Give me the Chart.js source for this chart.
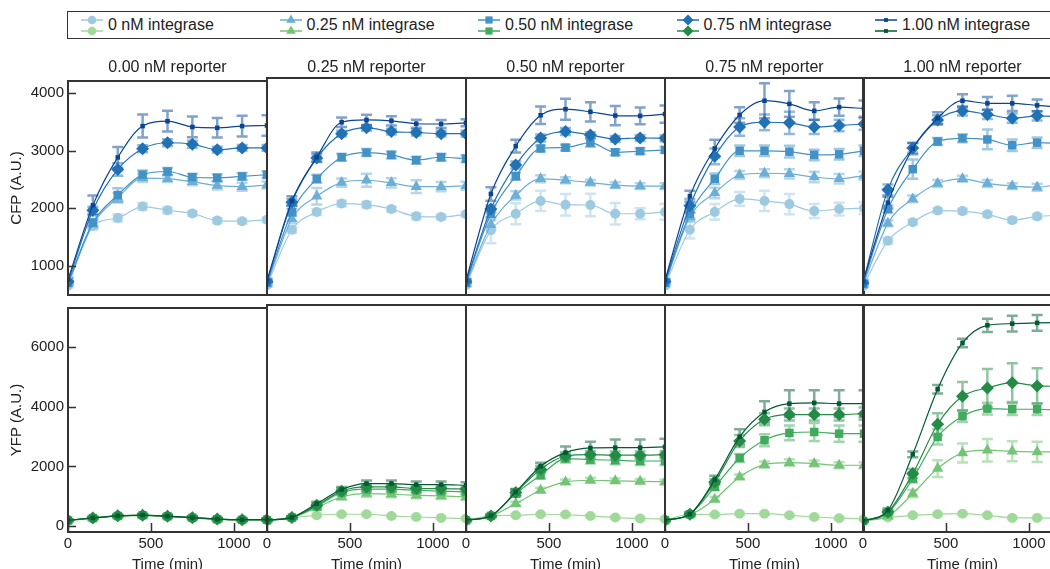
<!DOCTYPE html>
<html>
<head>
<meta charset="utf-8">
<script src="https://cdn.jsdelivr.net/npm/chart.js@4.4.0/dist/chart.umd.min.js"></script>
<style>
  body { margin: 0; background: #fff; width: 1050px; height: 569px; overflow: hidden; position: relative;
         font-family: "Liberation Sans", Arial, sans-serif; color: #222; }
  canvas.panel { position: absolute; }
  #legend { position: absolute; left: 67px; top: 11px; width: 1000px; height: 26px;
            border: 1.5px solid #333; display: flex; }
  .item { width: 198.5px; flex: none; display: flex; align-items: flex-start; }
  .item canvas { margin-left: 10px; }
  .item span { font-size: 16px; line-height: 26px; margin-left: 2px; white-space: nowrap; }
  .coltitle { position: absolute; top: 57px; width: 199px; text-align: center; font-size: 16px; line-height: 20px; }
</style>
</head>
<body>
<div id="legend"></div>
<script>
// time points (min) where the markers / error bars sit
const time = [0, 150, 300, 450, 600, 750, 900, 1050, 1200];
const integrase = ['0 nM integrase', '0.25 nM integrase', '0.50 nM integrase', '0.75 nM integrase', '1.00 nM integrase'];
const reporters = ['0.00 nM reporter', '0.25 nM reporter', '0.50 nM reporter', '0.75 nM reporter', '1.00 nM reporter'];

// tick labels
const timeTicks = [0, 500, 1000];
const cfpTicks = [1000, 2000, 3000, 4000];
const yfpTicks = [0, 2000, 4000, 6000];

// CFP, one array per reporter column, rows = 0, 0.25, 0.50, 0.75, 1.00 nM integrase
const cfpR000 = [
  [650, 1690, 1830, 2030, 1965, 1910, 1785, 1775, 1800],
  [690, 1720, 2185, 2525, 2515, 2460, 2395, 2375, 2405],
  [700, 1750, 2230, 2585, 2640, 2540, 2530, 2555, 2585],
  [720, 1965, 2675, 3035, 3140, 3115, 3020, 3050, 3050],
  [760, 2050, 2885, 3430, 3515, 3415, 3400, 3430, 3440]
];
const cfpR025 = [
  [660, 1610, 1915, 2060, 2040, 1965, 1840, 1830, 1875],
  [680, 1800, 2185, 2420, 2460, 2415, 2350, 2350, 2365],
  [700, 1910, 2485, 2855, 2935, 2895, 2805, 2855, 2830],
  [720, 2080, 2840, 3260, 3360, 3295, 3280, 3260, 3260],
  [740, 2105, 2855, 3455, 3495, 3480, 3430, 3425, 3445]
];
const cfpR050 = [
  [660, 1600, 1885, 2105, 2040, 2035, 1885, 1885, 1915],
  [680, 1695, 2200, 2485, 2460, 2420, 2375, 2360, 2360],
  [700, 1885, 2530, 3005, 3020, 3105, 2940, 2960, 2980],
  [720, 1965, 2720, 3185, 3295, 3235, 3170, 3185, 3180],
  [740, 2225, 3045, 3575, 3680, 3635, 3570, 3565, 3595]
];
const cfpR075 = [
  [650, 1610, 1915, 2140, 2105, 2050, 1930, 1965, 1980],
  [680, 1830, 2240, 2550, 2580, 2570, 2515, 2485, 2540],
  [700, 1885, 2485, 2965, 2965, 2950, 2895, 2905, 2965],
  [720, 2020, 2870, 3375, 3455, 3445, 3375, 3400, 3425],
  [740, 2185, 3005, 3580, 3825, 3770, 3650, 3715, 3690]
];
const cfpR100 = [
  [640, 1420, 1740, 1940, 1930, 1875, 1775, 1840, 1860],
  [660, 1720, 2140, 2405, 2485, 2405, 2360, 2340, 2405],
  [680, 1965, 2650, 3125, 3180, 3160, 3060, 3105, 3090],
  [700, 2295, 3015, 3495, 3650, 3590, 3525, 3565, 3550],
  [720, 2075, 3005, 3525, 3825, 3780, 3780, 3745, 3715]
];

// CFP error bar half-widths
const cfpErrR000 = [
  [30, 60, 60, 60, 50, 40, 40, 40, 40],
  [30, 70, 80, 70, 60, 60, 70, 70, 60],
  [30, 60, 120, 70, 60, 60, 60, 60, 60],
  [30, 60, 110, 60, 60, 60, 50, 50, 50],
  [30, 170, 180, 200, 180, 180, 170, 180, 180]
];
const cfpErrR025 = [
  [30, 50, 50, 50, 50, 40, 50, 40, 40],
  [30, 80, 140, 70, 110, 80, 110, 80, 70],
  [30, 60, 70, 60, 60, 60, 60, 60, 60],
  [30, 60, 60, 50, 50, 50, 50, 50, 50],
  [30, 80, 80, 80, 90, 80, 70, 70, 60]
];
const cfpErrR050 = [
  [30, 220, 180, 175, 185, 195, 185, 95, 135],
  [30, 80, 70, 60, 50, 50, 50, 50, 50],
  [30, 60, 60, 50, 50, 70, 50, 50, 50],
  [30, 60, 60, 60, 60, 50, 50, 50, 50],
  [30, 115, 110, 150, 180, 165, 165, 145, 150]
];
const cfpErrR075 = [
  [30, 150, 135, 120, 175, 175, 120, 110, 100],
  [30, 80, 90, 70, 70, 80, 90, 80, 70],
  [30, 80, 90, 90, 90, 100, 90, 90, 90],
  [30, 120, 135, 150, 135, 190, 120, 100, 100],
  [30, 95, 150, 135, 300, 220, 150, 150, 140]
];
const cfpErrR100 = [
  [30, 50, 40, 40, 40, 40, 40, 40, 40],
  [30, 50, 60, 60, 50, 60, 50, 60, 50],
  [30, 60, 165, 60, 70, 170, 100, 90, 80],
  [30, 90, 80, 80, 80, 80, 80, 80, 80],
  [30, 100, 100, 100, 110, 110, 130, 100, 100]
];

// YFP
const yfpR000 = [
  [190, 270, 340, 360, 330, 280, 230, 210, 220],
  [195, 275, 345, 365, 335, 285, 235, 215, 225],
  [195, 275, 345, 370, 335, 285, 235, 215, 220],
  [200, 280, 350, 370, 340, 290, 240, 220, 225],
  [200, 280, 350, 375, 340, 290, 240, 220, 225]
];
const yfpR025 = [
  [195, 285, 360, 395, 395, 340, 305, 275, 255],
  [195, 285, 615, 965, 1075, 1055, 1020, 1000, 965],
  [195, 285, 660, 1110, 1220, 1220, 1185, 1155, 1130],
  [200, 290, 690, 1155, 1295, 1295, 1240, 1240, 1220],
  [200, 290, 745, 1210, 1405, 1405, 1370, 1370, 1350]
];
const yfpR050 = [
  [195, 340, 360, 395, 385, 340, 285, 255, 240],
  [195, 340, 745, 1185, 1460, 1515, 1495, 1480, 1460],
  [195, 340, 1075, 1680, 2230, 2195, 2175, 2150, 2150],
  [200, 340, 1110, 1880, 2315, 2360, 2340, 2340, 2360],
  [200, 345, 1130, 1975, 2425, 2580, 2590, 2590, 2615]
];
const yfpR075 = [
  [195, 395, 385, 415, 415, 360, 305, 265, 240],
  [195, 370, 890, 1625, 2030, 2095, 2065, 2010, 2010],
  [195, 395, 1295, 2250, 2835, 3075, 3105, 3050, 3050],
  [200, 395, 1460, 2810, 3525, 3680, 3680, 3680, 3710],
  [200, 400, 1535, 2945, 3765, 4040, 4065, 4040, 4040]
];
const yfpR100 = [
  [175, 285, 360, 395, 415, 360, 275, 275, 265],
  [175, 330, 1075, 1900, 2415, 2505, 2470, 2450, 2450],
  [175, 440, 1570, 2945, 3625, 3875, 3855, 3855, 3820],
  [175, 470, 1735, 3360, 4280, 4555, 4730, 4625, 4610],
  [175, 525, 2370, 4515, 6040, 6620, 6675, 6700, 6710]
];

const yfpErrR000 = [
  [30, 40, 40, 40, 40, 40, 40, 40, 40],
  [30, 40, 40, 40, 40, 40, 40, 40, 40],
  [30, 40, 40, 40, 40, 40, 40, 40, 40],
  [30, 40, 40, 40, 40, 40, 40, 40, 40],
  [30, 40, 40, 40, 40, 40, 40, 40, 40]
];
const yfpErrR025 = [
  [30, 40, 40, 40, 40, 40, 40, 40, 40],
  [30, 40, 60, 80, 100, 100, 100, 100, 100],
  [30, 40, 60, 80, 100, 100, 100, 100, 100],
  [30, 40, 60, 80, 100, 100, 100, 100, 100],
  [30, 40, 60, 80, 100, 100, 100, 100, 100]
];
const yfpErrR050 = [
  [30, 40, 40, 40, 40, 40, 40, 40, 40],
  [30, 40, 60, 80, 80, 80, 80, 80, 80],
  [30, 40, 100, 110, 130, 130, 130, 130, 130],
  [30, 40, 100, 110, 120, 120, 120, 120, 120],
  [30, 40, 100, 120, 200, 200, 270, 270, 270]
];
const yfpErrR075 = [
  [30, 40, 40, 40, 40, 40, 40, 40, 40],
  [30, 50, 80, 80, 100, 110, 100, 100, 100],
  [30, 50, 100, 130, 200, 245, 300, 270, 270],
  [30, 50, 100, 200, 200, 200, 200, 200, 200],
  [30, 60, 130, 250, 350, 440, 420, 440, 440]
];
const yfpErrR100 = [
  [30, 40, 40, 40, 40, 40, 40, 40, 40],
  [30, 60, 120, 275, 315, 370, 330, 330, 330],
  [30, 60, 130, 250, 190, 190, 190, 190, 190],
  [30, 60, 150, 360, 470, 630, 640, 580, 580],
  [30, 60, 95, 140, 140, 220, 260, 260, 260]
];

const cfpValues = [cfpR000, cfpR025, cfpR050, cfpR075, cfpR100];
const cfpErrors = [cfpErrR000, cfpErrR025, cfpErrR050, cfpErrR075, cfpErrR100];
const yfpValues = [yfpR000, yfpR025, yfpR050, yfpR075, yfpR100];
const yfpErrors = [yfpErrR000, yfpErrR025, yfpErrR050, yfpErrR075, yfpErrR100];

// styles
const blues = ['#9ecae1', '#6baed6', '#4292c6', '#2171b5', '#084594'];
const greens = ['#a1d99b', '#74c476', '#41ab5d', '#238b45', '#005a32'];
const markers = ['circle', 'triangle', 'rect', 'rectRot', 'rect'];
const markerSize = [5, 6.5, 6, 6.5, 3.2];

const family = '"Liberation Sans", Arial, sans-serif';
Chart.defaults.font.family = family;
Chart.defaults.color = '#222';

// layout of the panel grid
const panelLeft = [68, 267, 466, 665, 863];
const panelWidth = 199;
const rowTop = [78, 305];
const panelHeight = 227;

// error bars behind the lines
const errorBars = {
  id: 'errorBars',
  beforeDatasetsDraw(chart) {
    const { ctx, chartArea: a, scales: { x, y } } = chart;
    ctx.save();
    ctx.beginPath();
    ctx.rect(a.left, a.top, a.right - a.left, a.bottom - a.top);
    ctx.clip();
    ctx.globalAlpha = 0.5;
    ctx.lineWidth = 2.5;
    chart.data.datasets.forEach(ds => {
      ctx.strokeStyle = ds.borderColor;
      ds.data.forEach((p, j) => {
        const e = ds.errorBars[j];
        const px = x.getPixelForValue(p.x);
        const lo = y.getPixelForValue(p.y - e);
        const hi = y.getPixelForValue(p.y + e);
        ctx.beginPath();
        ctx.moveTo(px, lo); ctx.lineTo(px, hi);
        ctx.moveTo(px - 5.5, lo); ctx.lineTo(px + 5.5, lo);
        ctx.moveTo(px - 5.5, hi); ctx.lineTo(px + 5.5, hi);
        ctx.stroke();
      });
    });
    ctx.restore();
  }
};

// box around each panel plus inward tick marks
const panelFrame = {
  id: 'panelFrame',
  afterDraw(chart, args, opts) {
    const { ctx, chartArea: a, scales: { x, y } } = chart;
    ctx.save();
    ctx.strokeStyle = '#333';
    ctx.lineWidth = 1.5;
    ctx.beginPath();
    if (opts.yTicks) {
      y.ticks.forEach(t => {
        const py = Math.round(y.getPixelForValue(t.value)) + 0.5;
        ctx.moveTo(a.left, py); ctx.lineTo(a.left + 8, py);
      });
    }
    if (opts.xTicks) {
      x.ticks.forEach(t => {
        const px = Math.round(x.getPixelForValue(t.value)) + 0.5;
        ctx.moveTo(px, a.bottom); ctx.lineTo(px, a.bottom - 9);
      });
    }
    ctx.stroke();
    ctx.lineWidth = 2;
    ctx.strokeRect(a.left, a.top, a.right - a.left, a.bottom - a.top);
    ctx.restore();
  }
};

function makePanel(row, col, values, errors, palette) {
  const padL = col === 0 ? 68 : 20;
  const padR = 20, padT = 10;
  const padB = row === 1 ? 42 : 10;
  const canvas = document.createElement('canvas');
  canvas.className = 'panel';
  canvas.width = padL + panelWidth + padR;
  canvas.height = padT + panelHeight + padB;
  canvas.style.left = (panelLeft[col] - padL) + 'px';
  canvas.style.top = (rowTop[row] - padT) + 'px';
  document.body.appendChild(canvas);

  const datasets = values.map((v, i) => ({
    label: integrase[i],
    data: time.map((t, j) => ({ x: t, y: v[j] })),
    errorBars: errors[i],
    borderColor: palette[i],
    backgroundColor: palette[i],
    pointBackgroundColor: palette[i],
    borderWidth: 1.2,
    pointStyle: markers[i],
    pointRadius: markerSize[i],
    pointBorderWidth: 0,
    cubicInterpolationMode: 'monotone',
    clip: 0,
    order: 4 - i
  }));

  const yTicks = row === 1 ? yfpTicks : cfpTicks;

  new Chart(canvas, {
    type: 'line',
    data: { datasets },
    options: {
      responsive: false,
      animation: false,
      events: [],
      layout: {
        autoPadding: false,
        padding: { left: 0, right: padR, top: padT, bottom: row === 1 ? 0 : padB }
      },
      plugins: {
        legend: { display: false },
        tooltip: { enabled: false },
        panelFrame: { yTicks: col === 0, xTicks: row === 1 }
      },
      scales: {
        x: {
          type: 'linear', min: 0, max: 1200,
          display: row === 1,
          grid: { display: false, drawTicks: false },
          border: { display: false },
          ticks: { padding: 3, maxRotation: 0, font: { size: 15 }, callback: v => String(v) },
          afterBuildTicks: s => { s.ticks = timeTicks.map(v => ({ value: v })); },
          title: { display: true, text: 'Time (min)', font: { size: 15 }, padding: { top: 0, bottom: 0 } },
          afterFit: s => { s.height = padB; }
        },
        y: {
          type: 'linear',
          min: row === 1 ? -190 : 490,
          max: row === 1 ? 7290 : 4215,
          display: true,
          grid: { display: false, drawTicks: false },
          border: { display: false },
          ticks: { display: col === 0, padding: 4, font: { size: 15 }, callback: v => String(v) },
          afterBuildTicks: s => { s.ticks = yTicks.map(v => ({ value: v })); },
          title: { display: col === 0, text: row === 1 ? 'YFP (A.U.)' : 'CFP (A.U.)', font: { size: 15 }, padding: { top: 8, bottom: 0 } },
          afterFit: s => { s.width = padL; }
        }
      }
    },
    plugins: [errorBars, panelFrame]
  });
}

for (let c = 0; c < 5; c++) {
  makePanel(0, c, cfpValues[c], cfpErrors[c], blues);
  makePanel(1, c, yfpValues[c], yfpErrors[c], greens);
  const t = document.createElement('div');
  t.className = 'coltitle';
  t.style.left = panelLeft[c] + 'px';
  t.textContent = reporters[c];
  document.body.appendChild(t);
}

// legend: blue (CFP) and green (YFP) symbol for each integrase level
const legend = document.getElementById('legend');
integrase.forEach((label, i) => {
  const item = document.createElement('div');
  item.className = 'item';
  const c = document.createElement('canvas');
  c.width = 28; c.height = 26;
  const ctx = c.getContext('2d');
  [[blues[i], 8], [greens[i], 19]].forEach(([col, yy]) => {
    ctx.strokeStyle = col;
    ctx.fillStyle = col;
    ctx.lineWidth = 1.5;
    ctx.beginPath(); ctx.moveTo(3, yy); ctx.lineTo(25, yy); ctx.stroke();
    if (Chart.helpers && Chart.helpers.drawPoint) {
      Chart.helpers.drawPoint(ctx, { pointStyle: markers[i], radius: markerSize[i] * 0.85, rotation: 0, borderWidth: 0 }, 14, yy);
    } else {
      ctx.beginPath(); ctx.arc(14, yy, 4, 0, Math.PI * 2); ctx.fill();
    }
  });
  const span = document.createElement('span');
  span.textContent = label;
  item.appendChild(c);
  item.appendChild(span);
  legend.appendChild(item);
});
</script>
</body>
</html>
